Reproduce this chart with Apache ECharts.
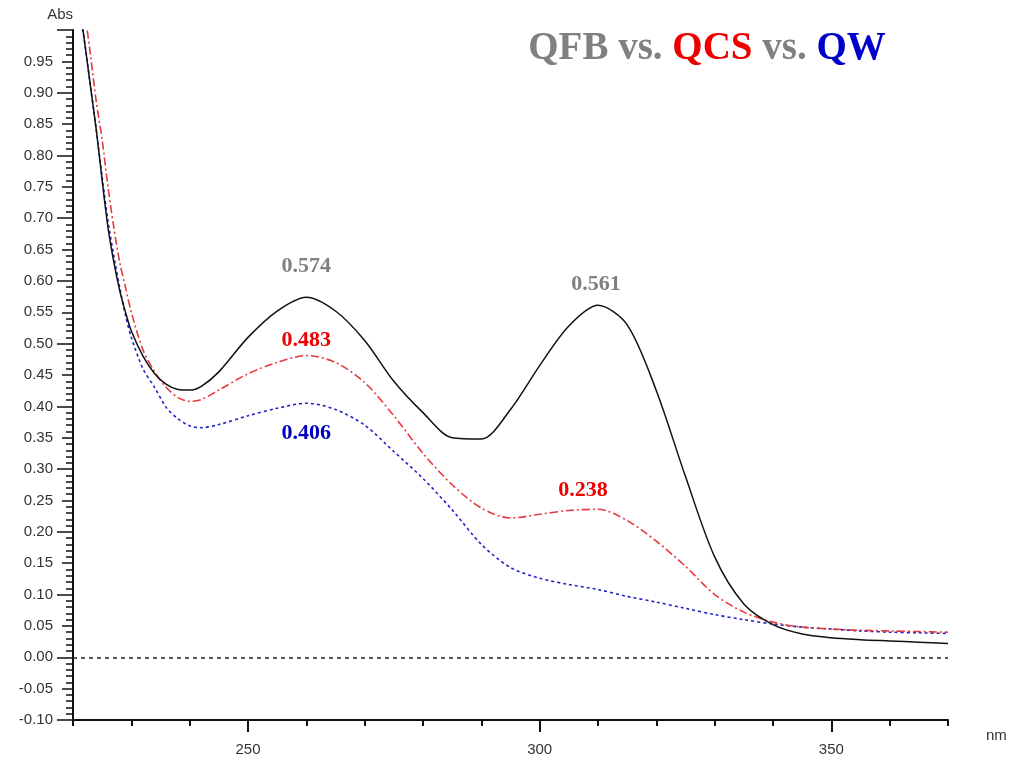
<!DOCTYPE html>
<html>
<head>
<meta charset="utf-8">
<script src="https://cdn.jsdelivr.net/npm/echarts@6/dist/echarts.min.js"></script>
<style>
  html, body { margin: 0; padding: 0; background: #fff; }
  #chart { width: 1015px; height: 762px; }
</style>
</head>
<body>
<div id="chart"></div>
<script>
// wavelength (nm)
var wavelengths = [221, 222, 223, 224, 225, 226, 227, 228, 229, 230, 232, 234, 236, 238, 240, 242, 245,
    250, 255, 260, 265, 270, 275, 280, 285, 290, 295, 300, 305, 310, 315, 320, 325, 330, 335, 340,
    345, 350, 355, 360, 365, 370];

// absorbance
var qfb = [1.05, 0.98, 0.91, 0.84, 0.76, 0.685, 0.63, 0.585, 0.55, 0.52, 0.48, 0.452, 0.435, 0.427, 0.426, 0.432, 0.455,
    0.51, 0.552, 0.574, 0.552, 0.505, 0.44, 0.39, 0.35, 0.348, 0.395, 0.465, 0.528, 0.561, 0.53, 0.425, 0.288, 0.16, 0.085, 0.052,
    0.037, 0.031, 0.028, 0.026, 0.024, 0.022];
var qcs = [1.1, 1.03, 0.96, 0.885, 0.825, 0.75, 0.685, 0.63, 0.59, 0.55, 0.49, 0.455, 0.43, 0.414, 0.408, 0.411, 0.426,
    0.452, 0.47, 0.481, 0.47, 0.438, 0.385, 0.325, 0.275, 0.238, 0.222, 0.228, 0.234, 0.236, 0.218, 0.185, 0.145, 0.1, 0.072, 0.056,
    0.048, 0.045, 0.043, 0.042, 0.041, 0.04];
var qw = [1.04, 0.98, 0.91, 0.84, 0.765, 0.695, 0.64, 0.59, 0.545, 0.51, 0.46, 0.43, 0.398, 0.38, 0.369, 0.366, 0.371,
    0.385, 0.397, 0.405, 0.395, 0.37, 0.328, 0.285, 0.235, 0.18, 0.143, 0.126, 0.116, 0.108, 0.097, 0.088, 0.078, 0.068, 0.06, 0.053,
    0.048, 0.045, 0.042, 0.04, 0.039, 0.038];

// peak annotations [nm, abs]
var qfbPeaks = [[260, 0.574], [310, 0.561]];
var qcsPeaks = [[260, 0.483], [310, 0.238]];
var qwPeaks = [[260, 0.406]];

var xMajorTicks = [250, 300, 350];

function pairs(ys) {
    return wavelengths.map(function (x, i) { return [x, ys[i]]; });
}

function peakPoints(list, color, offsets) {
    return {
        symbol: 'circle',
        symbolSize: 0,
        label: {
            show: true,
            fontFamily: 'Liberation Serif',
            fontWeight: 'bold',
            fontSize: 22,
            color: color
        },
        data: list.map(function (p, i) {
            return {
                coord: p,
                label: { formatter: p[1].toFixed(3), offset: offsets[i] }
            };
        })
    };
}

var titleFont = { fontFamily: 'Liberation Serif', fontWeight: 'bold', fontSize: 39 };

var myChart = echarts.init(document.getElementById('chart'));
var option = {
    animation: false,
    title: {
        text: '{g|QFB vs. }{r|QCS}{g| vs. }{b|QW}',
        left: 702,
        top: 24,
        textAlign: 'center',
        textStyle: {
            rich: {
                g: Object.assign({ color: '#808080' }, titleFont),
                r: Object.assign({ color: '#ee0000' }, titleFont),
                b: Object.assign({ color: '#0000cc' }, titleFont)
            }
        }
    },
    grid: { left: 73, right: 67, top: 30, bottom: 42 },
    xAxis: [{
        type: 'value',
        min: 220,
        max: 370,
        interval: 10,
        name: 'nm',
        nameLocation: 'end',
        nameGap: 38,
        nameTextStyle: { fontFamily: 'Liberation Sans', fontSize: 15, color: '#333', verticalAlign: 'top', padding: [8, 0, 0, 0] },
        axisLine: { onZero: false, lineStyle: { color: '#111', width: 2 } },
        axisTick: { length: 6, lineStyle: { color: '#111', width: 2 } },
        axisLabel: { show: false },
        splitLine: { show: false }
    }, {
        type: 'value',
        min: 220,
        max: 370,
        position: 'bottom',
        axisLine: { show: false, onZero: false },
        axisTick: { length: 12, customValues: xMajorTicks, lineStyle: { color: '#111', width: 2 } },
        axisLabel: { customValues: xMajorTicks, margin: 22, fontFamily: 'Liberation Sans', fontSize: 15, color: '#333' },
        splitLine: { show: false }
    }],
    yAxis: [{
        type: 'value',
        min: -0.1,
        max: 1.0,
        interval: 0.05,
        name: 'Abs',
        nameLocation: 'end',
        nameGap: 8,
        nameTextStyle: { fontFamily: 'Liberation Sans', fontSize: 15, color: '#333', align: 'right' },
        axisLine: { onZero: false, lineStyle: { color: '#111', width: 2 } },
        axisTick: { length: 11, lineStyle: { color: '#111', width: 1.5 } },
        minorTick: { show: true, splitNumber: 5, length: 7, lineStyle: { color: '#111', width: 1.5 } },
        axisLabel: {
            margin: 20,
            fontFamily: 'Liberation Sans',
            fontSize: 15,
            color: '#333',
            formatter: function (v) { return v > 0.999 ? '' : v.toFixed(2); }
        },
        splitLine: { show: false }
    }, {
        type: 'value',
        min: -0.1,
        max: 1.0,
        interval: 0.1,
        position: 'left',
        axisLine: { show: false, onZero: false },
        axisTick: { length: 16, lineStyle: { color: '#111', width: 1.5 } },
        axisLabel: { show: false },
        splitLine: { show: false }
    }],
    series: [{
        name: 'QW',
        type: 'line',
        smooth: 0.3,
        symbol: 'none',
        data: pairs(qw),
        lineStyle: { color: '#2222cc', width: 1.6, type: [3, 3] },
        markPoint: peakPoints(qwPeaks, '#0000bb', [[0, 31]])
    }, {
        name: 'QCS',
        type: 'line',
        smooth: 0.3,
        symbol: 'none',
        data: pairs(qcs),
        lineStyle: { color: '#e8383d', width: 1.6, type: [8, 3, 2, 3] },
        markPoint: peakPoints(qcsPeaks, '#ee0000', [[0, -14], [-15, -18]])
    }, {
        name: 'QFB',
        type: 'line',
        smooth: 0.3,
        symbol: 'none',
        data: pairs(qfb),
        lineStyle: { color: '#111', width: 1.5 },
        markPoint: peakPoints(qfbPeaks, '#808080', [[0, -31], [-2, -21]]),
        markLine: {
            silent: true,
            symbol: 'none',
            label: { show: false },
            lineStyle: { color: '#222', width: 1.5, type: [4, 4] },
            data: [{ yAxis: 0 }]
        }
    }]
};
myChart.setOption(option);
</script>
</body>
</html>
